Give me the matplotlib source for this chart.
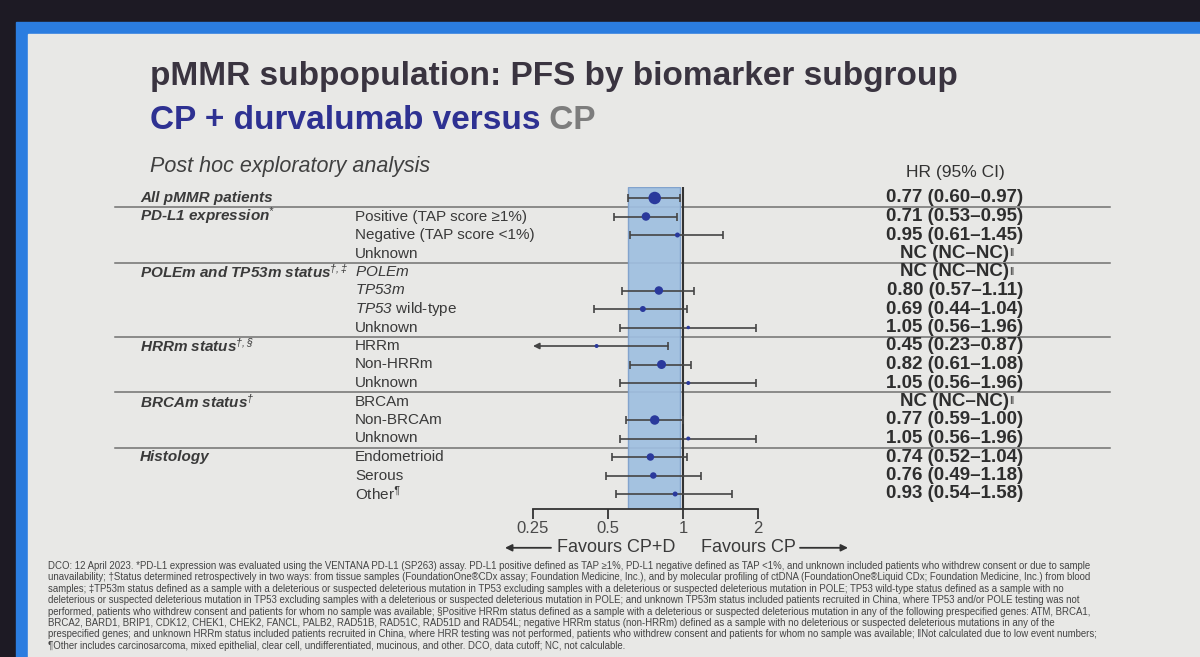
import math

import matplotlib
matplotlib.use("Agg")
import matplotlib.pyplot as plt
import numpy as np
from matplotlib.patches import Rectangle
from matplotlib.ticker import NullLocator

plt.rcParams["font.family"] = ["Liberation Sans", "DejaVu Sans"]
plt.rcParams["mathtext.fontset"] = "custom"
# math parts are only used for gene names and footnote marks: keep them italic
plt.rcParams["mathtext.rm"] = "Liberation Sans:italic"
plt.rcParams["mathtext.it"] = "Liberation Sans:italic"
plt.rcParams["mathtext.bf"] = "Liberation Sans:bold"


def it(s):
    return r"$\mathrm{" + s + "}$"


# ---- data ----
group_labels = [
    "All pMMR patients",
    "PD-L1 expression$^{*}$",
    "POLEm and TP53m status$^{†,‡}$",
    "HRRm status$^{†,§}$",
    "BRCAm status$^{†}$",
    "Histology",
]
group_sizes = [1, 3, 4, 3, 3, 3]

subgroup_labels = [
    "",
    "Positive (TAP score ≥1%)",
    "Negative (TAP score <1%)",
    "Unknown",
    it("POLEm"),
    it("TP53m"),
    it("TP53") + " wild-type",
    "Unknown",
    "HRRm",
    "Non-HRRm",
    "Unknown",
    "BRCAm",
    "Non-BRCAm",
    "Unknown",
    "Endometrioid",
    "Serous",
    "Other$^{¶}$",
]

nan = np.nan
hr = [0.77, 0.71, 0.95, nan, nan, 0.80, 0.69, 1.05, 0.45, 0.82, 1.05,
      nan, 0.77, 1.05, 0.74, 0.76, 0.93]
ci_lo = [0.60, 0.53, 0.61, nan, nan, 0.57, 0.44, 0.56, 0.23, 0.61, 0.56,
         nan, 0.59, 0.56, 0.52, 0.49, 0.54]
ci_hi = [0.97, 0.95, 1.45, nan, nan, 1.11, 1.04, 1.96, 0.87, 1.08, 1.96,
         nan, 1.00, 1.96, 1.04, 1.18, 1.58]

x_ticks = [0.25, 0.5, 1, 2]
x_tick_labels = ["0.25", "0.5", "1", "2"]

# dot diameters (px)
dot_diam = [12.5, 8.5, 5, 0, 0, 8.5, 6, 3.5, 4, 9, 4, 0, 9.5, 4, 7.5, 6.5, 5]

footnote_lines = [
    "DCO: 12 April 2023. *PD-L1 expression was evaluated using the VENTANA PD-L1 (SP263) assay. "
    "PD-L1 positive defined as TAP ≥1%, PD-L1 negative defined as TAP <1%, and unknown included "
    "patients who withdrew consent or due to sample",
    "unavailability; †Status determined retrospectively in two ways: from tissue samples "
    "(FoundationOne®CDx assay; Foundation Medicine, Inc.), and by molecular profiling of ctDNA "
    "(FoundationOne®Liquid CDx; Foundation Medicine, Inc.) from blood",
    "samples; ‡TP53m status defined as a sample with a deleterious or suspected deleterious mutation "
    "in TP53 excluding samples with a deleterious or suspected deleterious mutation in POLE; TP53 "
    "wild-type status defined as a sample with no",
    "deleterious or suspected deleterious mutation in TP53 excluding samples with a deleterious or "
    "suspected deleterious mutation in POLE; and unknown TP53m status included patients recruited "
    "in China, where TP53 and/or POLE testing was not",
    "performed, patients who withdrew consent and patients for whom no sample was available; "
    "§Positive HRRm status defined as a sample with a deleterious or suspected deleterious mutation "
    "in any of the following prespecified genes: ATM, BRCA1,",
    "BRCA2, BARD1, BRIP1, CDK12, CHEK1, CHEK2, FANCL, PALB2, RAD51B, RAD51C, RAD51D and RAD54L; "
    "negative HRRm status (non-HRRm) defined as a sample with no deleterious or suspected "
    "deleterious mutations in any of the",
    "prespecified genes; and unknown HRRm status included patients recruited in China, where HRR "
    "testing was not performed, patients who withdrew consent and patients for whom no sample was "
    "available; ‖Not calculated due to low event numbers;",
    "¶Other includes carcinosarcoma, mixed epithelial, clear cell, undifferentiated, mucinous, "
    "and other. DCO, data cutoff; NC, not calculable.",
]

# ---- layout (pixels) ----
FIG_W, FIG_H = 1200, 657
ROW0, STEP = 198, 18.5
X_ONE, PX_PER_DOUBLE = 683, 75
XMIN, XMAX = 0.22, 2.3
AXIS_LO, AXIS_HI = 0.25, 2

TEXT = "#3a3a3a"
LINE = "#444444"
DOT = "#2a399c"


def px(v):
    return X_ONE + PX_PER_DOUBLE * math.log2(v)


def row_y(i):
    return ROW0 + i * STEP


fig = plt.figure(figsize=(12, 6.57), dpi=100, facecolor="#1d1a24")
bg = fig.add_axes([0, 0, 1, 1])
bg.set_xlim(0, FIG_W)
bg.set_ylim(FIG_H, 0)
bg.axis("off")

# slide frame
bg.add_patch(Rectangle((16, 22), 1300, 700, color="#2b7de0", zorder=0))
bg.add_patch(Rectangle((28, 34), 1300, 700, color="#e8e8e6", zorder=0))

# titles
bg.text(150, 92, "pMMR subpopulation: PFS by biomarker subgroup", fontsize=24,
        fontweight="bold", color="#3a3440", va="bottom", ha="left")
t2 = bg.text(150, 136, "CP + durvalumab versus", fontsize=24, fontweight="bold",
             color="#2e3192", va="bottom", ha="left")
bg.annotate(" CP", xy=(1, 0), xycoords=t2, fontsize=24, fontweight="bold",
            color="#7d7d7d", va="bottom", ha="left")
bg.text(150, 177, "Post hoc exploratory analysis", fontsize=15.5, fontstyle="italic",
        color="#404040", va="bottom", ha="left")
bg.text(955, row_y(0) - 26, "HR (95% CI)", fontsize=12.5, color="#333333",
        ha="center", va="center")

# group + subgroup labels, separators
n_rows = len(hr)
start = 0
for label, size in zip(group_labels, group_sizes):
    bg.text(140, row_y(start), label, fontsize=11, fontweight="bold",
            fontstyle="italic", color=TEXT, va="center", ha="left")
    end = start + size - 1
    if end < n_rows - 1:
        yl = row_y(end) + STEP / 2
        bg.plot([115, 1110], [yl, yl], color="#707070", lw=1.1, zorder=1)
    start += size

for i, lab in enumerate(subgroup_labels):
    if lab:
        bg.text(355, row_y(i), lab, fontsize=11, color=TEXT, va="center", ha="left")

for i in range(n_rows):
    if np.isnan(hr[i]):
        t = bg.text(955, row_y(i), "NC (NC–NC)", fontsize=13.5, fontweight="bold",
                    color="#2e2e2e", va="center", ha="center")
        bg.annotate("‖", xy=(1, 0.82), xycoords=t, fontsize=7.5, color="#2e2e2e",
                    va="top", ha="left")
    else:
        s = f"{hr[i]:.2f} ({ci_lo[i]:.2f}–{ci_hi[i]:.2f})"
        bg.text(955, row_y(i), s, fontsize=13.5, fontweight="bold", color="#2e2e2e",
                va="center", ha="center")

# ---- forest axes ----
top_r, bot_r = -0.6, n_rows - 1 + 0.8
ax_l, ax_r = px(XMIN), px(XMAX)
ax_t, ax_b = row_y(top_r), row_y(bot_r)
ax = fig.add_axes([ax_l / FIG_W, 1 - ax_b / FIG_H, (ax_r - ax_l) / FIG_W,
                   (ax_b - ax_t) / FIG_H])
ax.patch.set_alpha(0)
ax.set_xscale("log")
ax.set_xlim(XMIN, XMAX)
ax.set_ylim(bot_r, top_r)

ax.axvspan(ci_lo[0], ci_hi[0], facecolor="#9fbfe0", edgecolor="#7d9fcc",
           lw=1, alpha=0.92, zorder=1)
ax.axvline(1, color="#333333", lw=1.5, zorder=2)

for i in range(n_rows):
    if np.isnan(hr[i]):
        continue
    lo, hi = ci_lo[i], ci_hi[i]
    if lo < AXIS_LO:
        ax.annotate("", xy=(AXIS_LO, i), xytext=(hi, i),
                    arrowprops=dict(arrowstyle="-|>", color=LINE, lw=1.2,
                                    mutation_scale=9, shrinkA=0, shrinkB=0),
                    zorder=3)
        ax.plot([hi], [i], marker="|", ms=6, mew=1.2, color=LINE, zorder=3)
    else:
        ax.errorbar(hr[i], i, xerr=[[hr[i] - lo], [hi - hr[i]]], fmt="none",
                    ecolor=LINE, elinewidth=1.2, capsize=3, capthick=1.2, zorder=3)
    ax.scatter(hr[i], i, s=(dot_diam[i] * 0.72) ** 2, color=DOT, zorder=4,
               edgecolors="none")

for side in ["top", "left", "right"]:
    ax.spines[side].set_visible(False)
ax.spines["bottom"].set_bounds(AXIS_LO, AXIS_HI)
ax.spines["bottom"].set_color("#333333")
ax.spines["bottom"].set_linewidth(1.3)
ax.set_xticks(x_ticks)
ax.set_xticklabels(x_tick_labels)
ax.xaxis.set_minor_locator(NullLocator())
ax.tick_params(axis="x", direction="out", length=7, width=1.3, color="#333333",
               labelsize=12, labelcolor="#4a4a4a", pad=2)
ax.set_yticks([])

# favours labels
fy = ax_b + 39
bg.text(px(1) - 8, fy, "Favours CP+D", fontsize=13, color=TEXT, ha="right", va="center")
bg.text(px(1) + 18, fy, "Favours CP", fontsize=13, color=TEXT, ha="left", va="center")
arrow = dict(arrowstyle="-|>", color="#333333", lw=1.3, mutation_scale=10,
             shrinkA=0, shrinkB=0)
bg.annotate("", xy=(px(1) - 178, fy), xytext=(px(1) - 132, fy), arrowprops=arrow)
bg.annotate("", xy=(px(1) + 165, fy), xytext=(px(1) + 117, fy), arrowprops=arrow)

# footnote
for k, line in enumerate(footnote_lines):
    bg.text(48, 566 + k * 11.4, line, fontsize=6.9, color="#444444",
            ha="left", va="center")

fig.savefig("out.png", dpi=100, facecolor=fig.get_facecolor())
